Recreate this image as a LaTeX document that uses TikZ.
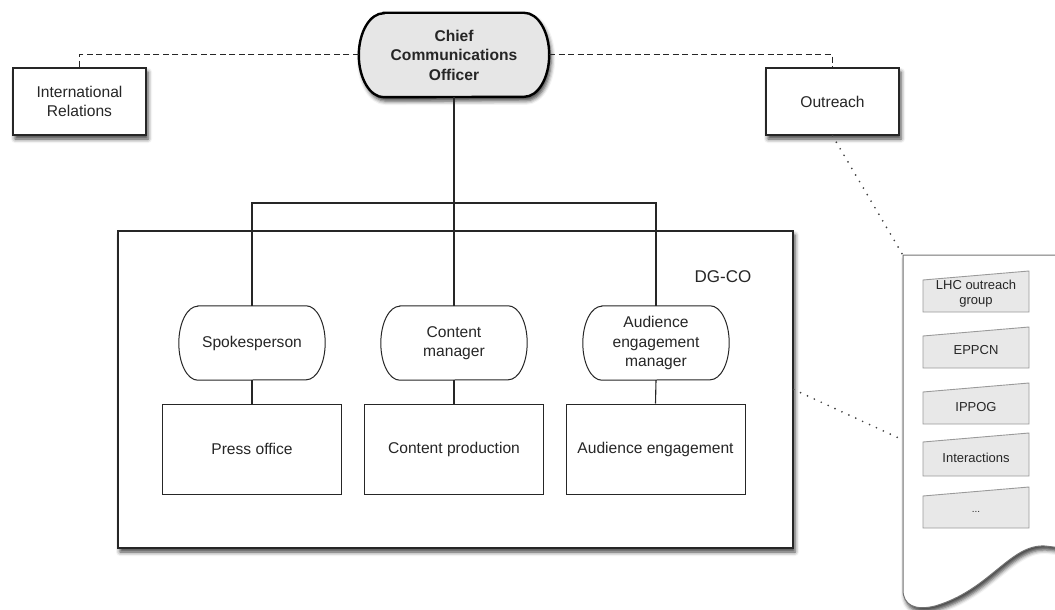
\documentclass[tikz,border=0pt]{standalone}
\usepackage{fontspec}
\setmainfont{Liberation Sans}
\usetikzlibrary{shadows.blur,calc}

\definecolor{ink}{HTML}{262626}
\definecolor{ccofill}{HTML}{E6E6E6}
\definecolor{itemfill}{HTML}{E8E8E8}
\definecolor{itemline}{HTML}{9A9A9A}

\tikzset{
  softshadow/.style={blur shadow={shadow xshift=2pt, shadow yshift=-4pt,
      shadow blur radius=4pt, shadow opacity=75}},
  maintext/.style={text=ink, font=\fontsize{15.6}{19.5}\selectfont, align=center},
  smalltext/.style={text=ink, font=\fontsize{13}{15}\selectfont, align=center},
  headbox/.style={rectangle, minimum width=190pt, minimum height=84pt, inner sep=0pt},
  headtext/.style={maintext, font=\fontsize{15.6}{19.5}\selectfont\bfseries},
  headframe/.style={draw=black, line width=2.4pt, fill=ccofill, softshadow},
  sidebox/.style={rectangle, draw=black!85, line width=1.4pt, fill=white,
      softshadow, maintext, minimum width=133pt, minimum height=67pt, inner sep=0pt},
  groupbox/.style={rectangle, draw=black!85, line width=1.3pt, fill=white,
      softshadow, minimum width=675pt, minimum height=317pt, inner sep=0pt},
  rolebox/.style={rectangle, maintext,
      minimum width=146pt, minimum height=74pt, inner sep=0pt},
  roleframe/.style={draw=black!85, line width=1pt},
  unitbox/.style={rectangle, draw=black!85, line width=1pt, fill=white,
      maintext, minimum width=179pt, minimum height=90pt, inner sep=0pt},
  conn/.style={draw=black!85, line width=1.1pt},
  dashline/.style={draw=black!85, line width=1pt, dash pattern=on 6pt off 3.5pt},
  dotline/.style={draw=black!75, line width=1.9pt, line cap=round,
      dash pattern=on 0pt off 7.6pt},
  itemshape/.style={draw=itemline, line width=0.9pt, fill=itemfill},
}

% outline with half-elliptic ends around a node: name, end width, half height, style
\newcommand\ovalframe[4]{%
  \path[#4] ($(#1.north west)+(#2,0)$) -- ($(#1.north east)-(#2,0)$)
    arc[start angle=90, end angle=-90, x radius=#2pt, y radius=#3pt]
    -- ($(#1.south west)+(#2,0)$)
    arc[start angle=270, end angle=90, x radius=#2pt, y radius=#3pt] -- cycle;}

\begin{document}
\begin{tikzpicture}[x=1pt, y=-1pt]
  \useasboundingbox (0,0) rectangle (1055,610);
  \clip (0,0) rectangle (1055,610);

  % department frame
  \node[groupbox] (dgco) at (455.5,389.5) {};
  \node[maintext, font=\fontsize{17}{20}\selectfont] (dglabel) at (723,277) {DG-CO};

  % outreach document sheet
  \path[draw=black!55, line width=1pt, fill=white, softshadow]
    (903,255) -- (1062,255) -- (1062,548) -- (1045,546)
    .. controls (1010,544) and (990,590) .. (935,606)
    .. controls (915,611) and (903,605) .. (903,590) -- cycle;
  \coordinate (sheettop) at (904,257);
  \coordinate (sheetside) at (903,440);

  % items listed on the sheet
  \foreach \name/\top/\bot/\ty/\txt in {
      lhc/271/312/294/{LHC outreach\\group},
      eppcn/327/368/350/EPPCN,
      ippog/383/424/407/IPPOG,
      inter/433/476/458/Interactions}{
    \path[itemshape] (923,\bot) -- (923,\top+9) -- (1029,\top) -- (1029,\bot) -- cycle;
    \node[smalltext] (\name) at (976,\ty) {\txt};
  }
  \path[itemshape] (923,528) -- (923,496) -- (1029,487) -- (1029,528) -- cycle;
  \node[smalltext, font=\fontsize{10}{12}\selectfont] (more) at (976,512) {...};

  % top level
  \node[headbox] (cco) at (454,55) {};
  \ovalframe{cco}{25}{42}{headframe}
  \node[headtext] (ccotext) at (cco.center) {Chief\\Communications\\Officer};
  \node[sidebox] (ir) at (79.5,101.5) {International\\Relations};
  \node[sidebox] (out) at (832.5,101.5) {Outreach};

  \draw[dashline] (cco.west) -| (ir.north);
  \draw[dashline] (cco.east) -| (out.north);

  % roles
  \node[rolebox] (spk) at (252,343) {Spokesperson};
  \node[rolebox] (cmgr) at (454,343) {Content\\manager};
  \node[rolebox] (amgr) at (656,343) {Audience\\engagement\\manager};
  \foreach \r in {spk,cmgr,amgr}{\ovalframe{\r}{19}{37}{roleframe}}

  % units
  \node[unitbox] (press) at (252,449) {Press office};
  \node[unitbox] (cprod) at (454,449) {Content production};
  \node[unitbox] (aeng) at (655.5,449) {Audience engagement};

  % reporting lines
  \coordinate (bus) at (454,203);
  \draw[conn] (cco.south) -- (cmgr.north);
  \draw[conn] (spk.north) |- (bus) -| (amgr.north);
  \draw[conn] (spk.south) -- (press.north);
  \draw[conn] (cmgr.south) -- (cprod.north);
  \draw[conn] (amgr.south) -- (aeng.north);

  % links to the outreach sheet
  \draw[dotline] (out.south) -- (sheettop);
  \draw[dotline] (dgco.east) -- (sheetside);
\end{tikzpicture}
\end{document}
